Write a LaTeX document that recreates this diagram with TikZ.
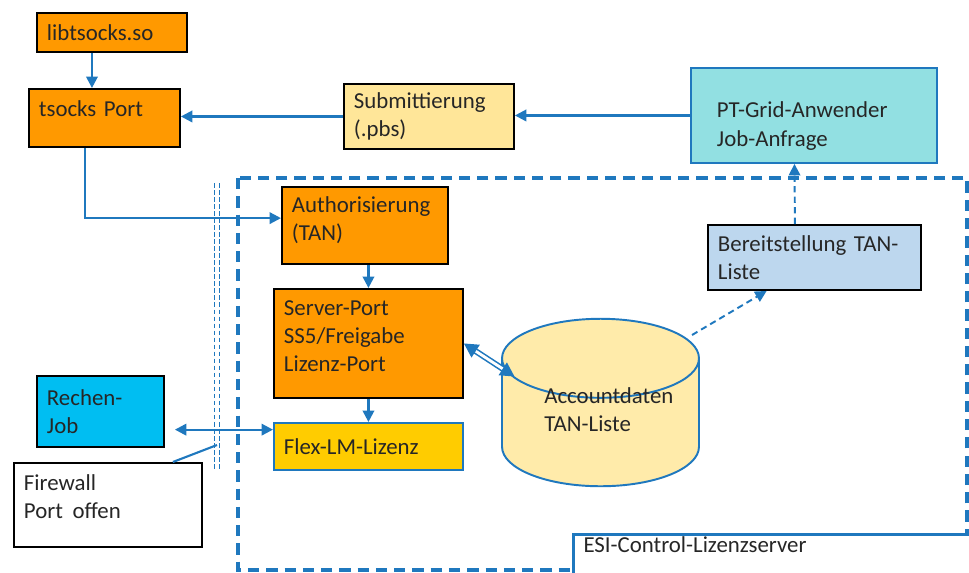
\documentclass[tikz,border=0pt]{standalone}
\usepackage{fontspec}
\setmainfont{Carlito}
\usetikzlibrary{arrows.meta,shapes.geometric}
\definecolor{lnblue}{RGB}{31,120,190}
\definecolor{txt}{RGB}{38,38,38}
\definecolor{orng}{RGB}{255,153,0}
\definecolor{subfill}{RGB}{255,230,153}
\definecolor{ptfill}{RGB}{146,224,226}
\definecolor{tanfill}{RGB}{189,215,238}
\definecolor{jobfill}{RGB}{0,190,242}
\definecolor{flexfill}{RGB}{255,204,0}
\definecolor{dbfill}{RGB}{255,235,170}

\begin{document}
\begin{tikzpicture}[
  x=0.02cm,
  y=-0.02cm,
  box/.style={draw=black,line width=1.1pt,anchor=north west,align=left,
    inner xsep=0.2cm,inner ysep=0pt,text=txt,font=\fontsize{13}{16}\selectfont},
  blubox/.style={box,draw=lnblue},
  link/.style={draw=lnblue,line width=1.3pt,-{Triangle[length=6.5pt,width=6.5pt]}},
  both/.style={link,{Triangle[length=6.5pt,width=6.5pt]}-{Triangle[length=6.5pt,width=6.5pt]}},
  dlink/.style={link,line width=1.1pt,dash pattern=on 3.6pt off 2.4pt},
  dbl/.style={draw=lnblue,line width=0.9pt,double=white,double distance=1.6pt,
    {Triangle[length=8pt,width=8.5pt]}-{Triangle[length=8pt,width=8.5pt]}},
  frame/.style={draw=lnblue,line width=1.8pt,dash pattern=on 6.4pt off 4pt}
]
  \clip (0,0) rectangle (969,572);

  \draw[frame] (238,178) rectangle (967,570);
  \foreach \x in {214.5,219.5} {
    \draw[lnblue,line width=1.1pt,dash pattern=on 2.6pt off 1.4pt] (\x,183) -- (\x,470);
  }

  \node[box,fill=orng,text width=2.6cm,minimum height=0.78cm] (lib) at (36,12) {libtsocks.so};
  \node[box,fill=orng,text width=2.62cm,minimum height=1.16cm,text depth=10.5pt] (tsocks) at (28,88) {tsocks Port};
  \node[box,fill=subfill,text width=3.0cm,minimum height=1.3cm] (subm) at (343,83) {Submittierung\\(.pbs)};
  \node[blubox,fill=ptfill,inner xsep=0.52cm,text width=3.88cm,minimum height=1.9cm,text height=21pt] (pt) at (690,67) {PT-Grid-Anwender\\Job-Anfrage};
  \node[box,fill=tanfill,text width=3.86cm,minimum height=1.3cm] (bereit) at (707,224) {Bereitstellung TAN-\\Liste};

  \node[box,fill=orng,text width=2.92cm,minimum height=1.54cm,text depth=24pt] (auth) at (281,186) {Authorisierung\\(TAN)};
  \node[box,fill=orng,text width=3.38cm,minimum height=2.18cm,text depth=40pt] (srv) at (273,288) {Server-Port\\SS5/Freigabe\\Lizenz-Port};
  \node[blubox,fill=flexfill,text width=3.38cm,minimum height=0.94cm] (flex) at (273,422) {Flex-LM-Lizenz};
  \node[box,fill=jobfill,text width=2.14cm,minimum height=1.42cm] (rechen) at (36,375) {Rechen-\\Job};
  \node[box,fill=white,text width=3.36cm,minimum height=1.68cm,text depth=26pt] (fw) at (13,462) {Firewall\\Port\hspace{5.5pt}offen};

  \node[cylinder,shape border rotate=90,draw=lnblue,line width=1.1pt,fill=dbfill,text width=2.64cm,
    minimum width=3.94cm,minimum height=3.35cm,aspect=0.55,anchor=shape center] (db) at (600.5,402.5) {};
  \node[align=left,anchor=west,inner sep=0pt,text=txt,font=\fontsize{13}{16}\selectfont] (dbtext) at (544,410) {Accountdaten\\TAN-Liste};

  \node[blubox,line width=1.7pt,fill=white,inner ysep=1pt,text width=7.6cm,text depth=30pt] (esi) at (572,533) {ESI-Control-Lizenzserver};
  \coordinate (fwpt) at (217,445);

  \draw[link] ([xshift=-0.4cm]lib.south) -- ([xshift=-0.4cm]lib.south |- tsocks.north);
  \draw[link] (pt.west) -- (pt.west -| subm.east);
  \draw[link] (subm.west) -- (subm.west -| tsocks.east);
  \draw[link] ([xshift=-0.39cm]tsocks.south) |- (auth.175);
  \draw[link] (auth.south -| srv.north) -- (srv.north);
  \draw[link] (srv.south) -- (flex.north);
  \draw[both] ([xshift=0.2cm]rechen.east |- flex.170) -- (flex.170);
  \draw[draw=lnblue,line width=1.2pt] ([xshift=-0.6cm]fw.north east) -- (fwpt);
  \draw[dbl] (srv.east) -- ([shift={(-86,-26)}]db.shape center);
  \draw[dlink] ([shift={(91.5,-67.5)}]db.shape center) -- (bereit.215);
  \draw[dlink] ([xshift=-0.39cm]bereit.north) -- ([xshift=-0.39cm]pt.south);
\end{tikzpicture}
\end{document}
